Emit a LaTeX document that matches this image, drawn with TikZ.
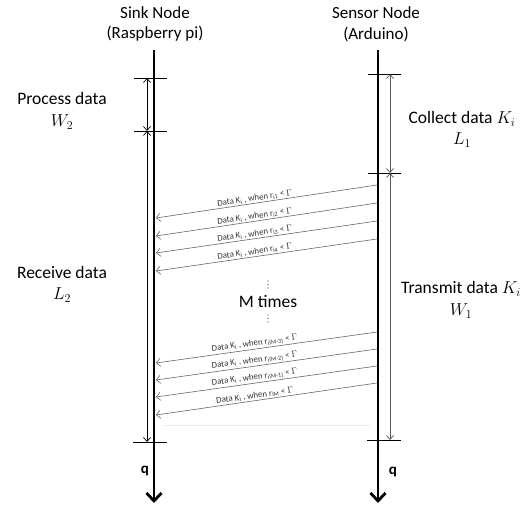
\documentclass[tikz,border=0pt]{standalone}
\usepackage{fontspec}
\setmainfont{Carlito}
\usetikzlibrary{arrows.meta}
\tikzset{
  lifeline/.style={line width=2.8pt,-{Straight Barb[length=8pt,width=15pt]}},
  tick/.style={line width=0.9pt},
  dimL/.style={line width=0.7pt,{Straight Barb[length=4pt,width=7pt]}-{Straight Barb[length=4pt,width=7pt]}},
  dimR/.style={line width=0.7pt,draw=black!65,{Straight Barb[length=4pt,width=7pt]}-{Straight Barb[length=4pt,width=7pt]}},
  msg/.style={line width=0.6pt,draw=black!60,{Straight Barb[length=4pt,width=8pt]}-},
  lab/.style={font=\fontsize{8.8}{9}\selectfont,text=black!80,above,sloped,inner sep=1pt,pos=0.45},
  title/.style={font=\fontsize{17}{19}\selectfont,align=center},
  big/.style={font=\fontsize{17.5}{19}\selectfont},
  qlab/.style={font=\fontsize{15}{16}\selectfont\bfseries},
  dot/.style={fill=black!80,draw=none,circle,inner sep=0pt,minimum size=1.4pt}
}
\begin{document}
\begin{tikzpicture}[x=1pt,y=-1pt]
\useasboundingbox[fill=white] (0,0) rectangle (530,505);
% titles
\node[title] (t1) at (155,13) {Sink Node};
\node[title] (t1b) at (155,34) {(Raspberry pi)};
\node[title] (t2) at (376,13) {Sensor Node};
\node[title] (t2b) at (376,34) {(Arduino)};
% lifelines
\coordinate (Ltop) at (154,50); \coordinate (Lbot) at (154,503);
\coordinate (Rtop) at (378,50); \coordinate (Rbot) at (378,503);
\draw[lifeline] (Ltop) -- (Lbot);
\draw[lifeline] (Rtop) -- (Rbot);
% ticks left
\coordinate (la1) at (134,78);  \coordinate (lb1) at (167,78);
\coordinate (la2) at (134,131); \coordinate (lb2) at (167,131);
\coordinate (la3) at (133,442); \coordinate (lb3) at (167,442);
\draw[tick] (la1) -- (lb1); \draw[tick] (la2) -- (lb2); \draw[tick] (la3) -- (lb3);
% ticks right
\coordinate (ra1) at (368,74);  \coordinate (rb1) at (401,74);
\coordinate (ra2) at (368,173); \coordinate (rb2) at (401,173);
\coordinate (ra3) at (367,440); \coordinate (rb3) at (401,440);
\draw[tick] (ra1) -- (rb1); \draw[tick] (ra2) -- (rb2); \draw[tick] (ra3) -- (rb3);
% dimension arrows
\coordinate (dl1) at (147,78); \coordinate (dl2) at (147,131); \coordinate (dl3) at (147,442);
\draw[dimL] (dl1) -- (dl2);
\draw[dimL] (dl2) -- (dl3);
\coordinate (dr1) at (390,74); \coordinate (dr2) at (390,173); \coordinate (dr3) at (390,440);
\draw[dimR] (dr1) -- (dr2);
\draw[dimR] (dr2) -- (dr3);
% side labels
\node[big] (pd) at (62,98) {Process data};
\node[big] (w2) at (62,122) {$W_2$};
\node[big] (rd) at (62,272) {Receive data};
\node[big] (l2) at (62,295) {$L_2$};
\node[big] (cd) at (462,119) {Collect data $K_i$};
\node[big] (l1) at (462,140) {$L_1$};
\node[big] (td) at (461,289) {Transmit data $K_i$};
\node[big] (w1) at (461,311) {$W_1$};
% messages
\coordinate (s1) at (377,185); \coordinate (e1) at (156,218);
\coordinate (s2) at (377,203); \coordinate (e2) at (156,236);
\coordinate (s3) at (377,221); \coordinate (e3) at (156,253);
\coordinate (s4) at (377,239); \coordinate (e4) at (156,271);
\draw[msg] (e1) -- node[lab]{Data K\textsubscript{i} , when r\textsubscript{i1} < $\Gamma$} (s1);
\draw[msg] (e2) -- node[lab]{Data K\textsubscript{i} , when r\textsubscript{i2} < $\Gamma$} (s2);
\draw[msg] (e3) -- node[lab]{Data K\textsubscript{i} , when r\textsubscript{i3} < $\Gamma$} (s3);
\draw[msg] (e4) -- node[lab]{Data K\textsubscript{i} , when r\textsubscript{i4} < $\Gamma$} (s4);
\coordinate (s5) at (377,332); \coordinate (e5) at (156,363);
\coordinate (s6) at (377,349); \coordinate (e6) at (156,380);
\coordinate (s7) at (377,366); \coordinate (e7) at (156,397);
\coordinate (s8) at (377,383); \coordinate (e8) at (156,415);
\draw[msg] (e5) -- node[lab]{Data K\textsubscript{i} , when r\textsubscript{i(M-3)} < $\Gamma$} (s5);
\draw[msg] (e6) -- node[lab]{Data K\textsubscript{i} , when r\textsubscript{i(M-2)} < $\Gamma$} (s6);
\draw[msg] (e7) -- node[lab]{Data K\textsubscript{i} , when r\textsubscript{i(M-1)} < $\Gamma$} (s7);
\draw[msg] (e8) -- node[lab]{Data K\textsubscript{i} , when r\textsubscript{iM} < $\Gamma$} (s8);
% M times
\node[big,inner sep=0pt] (mt) at (268,302) {M times};
\foreach \yy in {281,284.5,288,315,318.5,322} \node[dot] at (268,\yy) {};
% faint line
\coordinate (f1) at (163,425); \coordinate (f2) at (370,425);
\draw[black!7,line width=0.8pt] (f1) -- (f2);
% q labels
\node[qlab] (q1) at (145,471) {q};
\node[qlab] (q2) at (393,472) {q};
\end{tikzpicture}
\end{document}
